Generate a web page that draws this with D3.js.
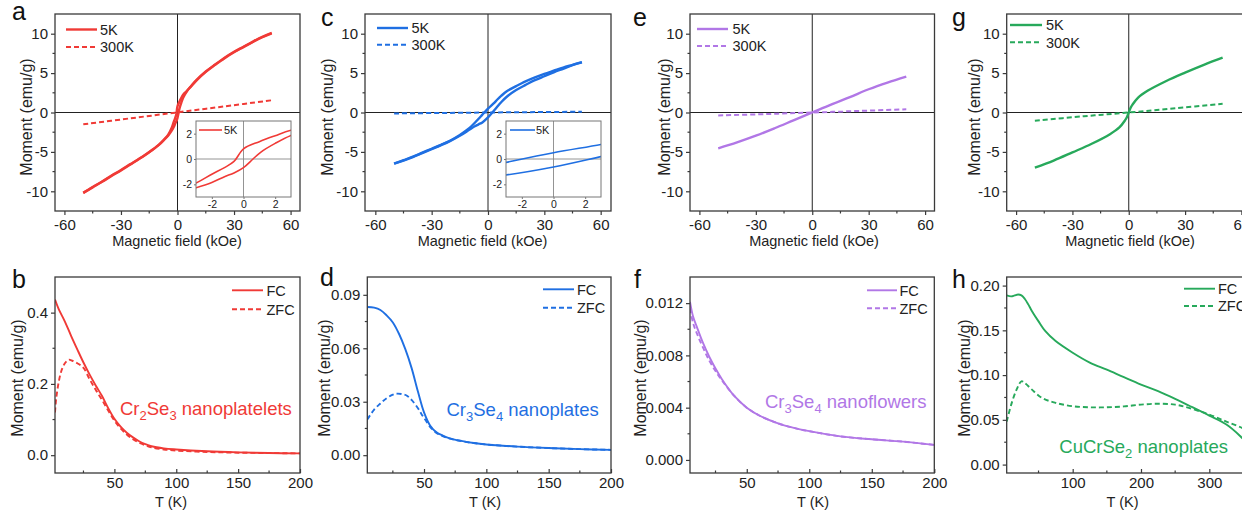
<!DOCTYPE html>
<html><head><meta charset="utf-8">
<script src="https://cdn.jsdelivr.net/npm/d3@7"></script>
<style>
body{margin:0;background:#fff;}
svg{display:block;font-family:"Liberation Sans",Arial,Helvetica,sans-serif;}
</style>
</head><body>
<svg id="chart" width="1242" height="512"></svg>
<script>
// ---------------- DATA ----------------
// Panel a (Cr2Se3): M(H) loops, [field kOe, moment emu/g]
const a5KDown = [[50,10.1],[45,9.6],[40,9.0],[35,8.35],[30,7.7],[25,6.95],[20,6.1],[15,5.2],[10,4.1],[7,3.3],[5,2.75],[3,2.27],[2,1.84],[1,1.37],[0,0.8],[-0.6,-0.19],[-1.2,-0.68],[-2,-1.2],[-3,-1.9],[-5,-2.85],[-7,-3.4],[-10,-4.1],[-15,-5.0],[-20,-5.8],[-25,-6.55],[-30,-7.3],[-35,-8.0],[-40,-8.75],[-45,-9.45],[-50,-10.2]];
const a5KUp = [[-50,-10.2],[-45,-9.5],[-40,-8.8],[-35,-8.05],[-30,-7.35],[-25,-6.6],[-20,-5.85],[-15,-5.05],[-10,-4.15],[-7,-3.45],[-5,-2.95],[-3,-2.27],[-2,-1.85],[-1.2,-1.4],[-0.6,-1.1],[0,-0.68],[0.6,0],[1.1,0.55],[2,1.23],[3,1.86],[5,2.7],[7,3.25],[10,4.05],[15,5.15],[20,6.05],[25,6.9],[30,7.65],[35,8.3],[40,8.95],[45,9.55],[50,10.05]];
const a300K = [[-50,-1.5],[-25,-0.74],[0,0.02],[25,0.78],[50,1.55]];
// Panel c (Cr3Se4 nanoplates)
const c5KDown = [[50,6.4],[45,6.05],[40,5.7],[35,5.3],[30,4.9],[25,4.45],[20,3.95],[15,3.35],[10,2.7],[7,2.1],[5,1.65],[3,1.15],[0,0.49],[-3,-0.27],[-5,-0.8],[-7,-1.3],[-10,-2.0],[-15,-2.85],[-20,-3.55],[-25,-4.1],[-30,-4.6],[-35,-5.1],[-40,-5.6],[-45,-6.05],[-50,-6.5]];
const c5KUp = [[-50,-6.5],[-45,-6.1],[-40,-5.65],[-35,-5.15],[-30,-4.65],[-25,-4.15],[-20,-3.6],[-15,-2.95],[-10,-2.2],[-7,-1.75],[-5,-1.5],[-3,-1.26],[0,-0.63],[3,0.19],[5,0.75],[7,1.3],[10,2.0],[15,2.85],[20,3.5],[25,4.1],[30,4.6],[35,5.1],[40,5.55],[45,6.0],[50,6.35]];
const c300K = [[-50,-0.12],[-25,-0.06],[0,0],[25,0.05],[50,0.1]];
// Panel e (Cr3Se4 nanoflowers)
const e5K = [[-50,-4.55],[-40,-3.8],[-30,-2.95],[-20,-2.0],[-10,-1.0],[0,0],[10,1.0],[20,1.95],[30,2.95],[40,3.8],[50,4.55]];
const e300K = [[-50,-0.38],[-25,-0.2],[0,0],[25,0.2],[50,0.4]];
// Panel g (CuCrSe2)
const g5K = [[-50,-7.0],[-40,-6.1],[-30,-5.06],[-20,-4.0],[-10,-2.75],[-5,-1.9],[-2,-1.0],[-1,-0.6],[0,0],[1,0.6],[2,1.0],[5,1.9],[10,2.75],[20,4.0],[30,5.06],[40,6.05],[50,6.95]];
const g300K = [[-50,-1.05],[-25,-0.5],[0,0],[25,0.55],[50,1.1]];
// Panel b: M(T), [T K, moment emu/g]
const bFC = [[2,0.437],[5,0.41],[10,0.375],[15,0.335],[20,0.297],[25,0.26],[30,0.226],[35,0.195],[40,0.166],[45,0.132],[50,0.102],[55,0.08],[60,0.063],[65,0.05],[70,0.039],[75,0.031],[80,0.025],[90,0.019],[100,0.016],[125,0.011],[150,0.008],[175,0.006],[200,0.005]];
const bZFC = [[2,0.12],[3,0.16],[5,0.205],[7,0.235],[10,0.258],[13,0.268],[16,0.265],[20,0.258],[25,0.245],[30,0.213],[35,0.183],[40,0.155],[45,0.125],[50,0.097],[55,0.075],[60,0.058],[65,0.045],[70,0.035],[75,0.028],[80,0.022],[90,0.016],[100,0.013],[125,0.009],[150,0.007],[175,0.006],[200,0.005]];
// Panel d
const dFC = [[4.5,0.0832],[10,0.0828],[15,0.0815],[20,0.0785],[25,0.0745],[30,0.068],[35,0.0595],[40,0.049],[45,0.036],[50,0.024],[55,0.0165],[60,0.0128],[65,0.011],[70,0.0096],[80,0.008],[90,0.0068],[100,0.006],[125,0.0048],[150,0.004],[175,0.0034],[200,0.003]];
const dZFC = [[4.5,0.02],[10,0.0256],[15,0.029],[20,0.032],[25,0.034],[28,0.0345],[32,0.0343],[36,0.0335],[40,0.031],[45,0.0265],[48,0.023],[50,0.021],[55,0.0158],[60,0.0125],[65,0.0107],[70,0.0094],[80,0.0079],[90,0.0068],[100,0.006],[125,0.0048],[150,0.004],[175,0.0034],[200,0.003]];
// Panel f
const fFC = [[4.6,0.0121],[7,0.011],[10,0.0102],[15,0.00895],[20,0.0079],[25,0.007],[30,0.0062],[40,0.0049],[50,0.004],[60,0.0034],[75,0.0028],[90,0.0024],[100,0.0022],[125,0.0018],[150,0.00158],[175,0.0014],[200,0.00115]];
const fZFC = [[4.6,0.0116],[7,0.0105],[10,0.0097],[15,0.0086],[20,0.0076],[25,0.0068],[30,0.0061],[40,0.0049],[50,0.004],[60,0.0034],[75,0.0028],[90,0.0024],[100,0.0022],[125,0.0018],[150,0.00158],[175,0.0014],[200,0.00115]];
// Panel h
const hFC = [[3.4,0.189],[10,0.188],[15,0.189],[20,0.19],[25,0.189],[30,0.185],[35,0.179],[40,0.172],[50,0.16],[60,0.149],[75,0.138],[100,0.125],[125,0.114],[150,0.106],[175,0.0976],[200,0.0894],[225,0.082],[250,0.0734],[270,0.066],[300,0.0547],[325,0.0447],[345,0.032],[350,0.028]];
const hZFC = [[3.4,0.048],[10,0.067],[18,0.084],[25,0.093],[30,0.091],[40,0.084],[55,0.0745],[75,0.069],[100,0.0652],[125,0.064],[150,0.064],[175,0.065],[200,0.067],[225,0.068],[250,0.067],[270,0.0633],[300,0.0559],[325,0.048],[345,0.042],[350,0.04]];

// Ticks
const fieldTicks = [-60,-30,0,30,60];
const fieldTickLabels = ["-60","-30","0","30","60"];
const fieldMinor = [-45,-15,15,45];
const momentTicks = [-10,-5,0,5,10];
const momentTickLabels = ["-10","-5","0","5","10"];
const momentMinor = [-7.5,-2.5,2.5,7.5];
const insetTicks = [-2,0,2];
const insetTickLabels = ["-2","0","2"];
const tTicks = [50,100,150,200];
const tTickLabels = ["50","100","150","200"];
const tMinor = [25,75,125,175];
const tTicksH = [100,200,300];
const tTickLabelsH = ["100","200","300"];
const tMinorH = [50,150,250,350];
const bYTicks = [0,0.2,0.4], bYLabels = ["0.0","0.2","0.4"], bYMinor = [0.1,0.3];
const dYTicks = [0,0.03,0.06,0.09], dYLabels = ["0.00","0.03","0.06","0.09"], dYMinor = [0.015,0.045,0.075];
const fYTicks = [0,0.004,0.008,0.012], fYLabels = ["0.000","0.004","0.008","0.012"], fYMinor = [0.002,0.006,0.010];
const hYTicks = [0,0.05,0.1,0.15,0.2], hYLabels = ["0.00","0.05","0.10","0.15","0.20"], hYMinor = [0.025,0.075,0.125,0.175];

const loopLegend = ["5K","300K"];
const tempLegend = ["FC","ZFC"];
const panelLetters = ["a","b","c","d","e","f","g","h"];
const fieldTitle = "Magnetic field (kOe)";
const tempTitle = "T (K)";
const momentTitle = "Moment (emu/g)";

const RED = "#f03a36", BLUE = "#1f6fe2", PURPLE = "#b177e6", GREEN = "#27a95b";
const FRAME = "#3a3a3a";

// ---------------- DRAW ----------------
const svg = d3.select("#chart");
const defs = svg.append("defs");
let clipCount = 0;

function drawAxes(g, x, y, p, o) {
  const box = {l: x.range()[0], r: x.range()[1], t: y.range()[1], b: y.range()[0]};
  const fs = o.fontSize;
  const xa = d3.axisBottom(x).tickValues(p.xTicks).tickFormat((d,i)=>p.xLabels[i])
      .tickSizeInner(p.xIn ? -o.tick : o.tick).tickSizeOuter(0).tickPadding(o.pad);
  const gx = g.append("g").attr("transform",`translate(0,${box.b})`).call(xa);
  gx.select(".domain").remove();
  gx.selectAll("line").attr("stroke",o.frame).attr("stroke-width",o.sw);
  gx.selectAll("text").attr("font-size",fs).attr("fill","#222").attr("font-family","inherit");
  if (p.xMinor) gx.selectAll(".minor").data(p.xMinor).enter().append("line")
      .attr("x1",d=>x(d)).attr("x2",d=>x(d)).attr("y1",0).attr("y2",p.xIn ? -o.minor : o.minor)
      .attr("stroke",o.frame).attr("stroke-width",o.sw);
  const ya = d3.axisLeft(y).tickValues(p.yTicks).tickFormat((d,i)=>p.yLabels[i])
      .tickSizeInner(o.tick).tickSizeOuter(0).tickPadding(o.ypad);
  const gy = g.append("g").attr("transform",`translate(${box.l},0)`).call(ya);
  gy.select(".domain").remove();
  gy.selectAll("line").attr("stroke",o.frame).attr("stroke-width",o.sw);
  gy.selectAll("text").attr("font-size",fs).attr("fill","#222").attr("font-family","inherit");
  if (p.yMinor) gy.selectAll(".minor").data(p.yMinor).enter().append("line")
      .attr("y1",d=>y(d)).attr("y2",d=>y(d)).attr("x1",0).attr("x2",-o.minor)
      .attr("stroke",o.frame).attr("stroke-width",o.sw);
}

function drawSeries(g, x, y, series, clipId) {
  const line = d3.line().x(d=>x(d[0])).y(d=>y(d[1])).curve(d3.curveCatmullRom.alpha(0.5));
  series.forEach(s => {
    g.append("path").datum(s.data).attr("d",line)
      .attr("fill","none").attr("stroke",s.color).attr("stroke-width",s.width)
      .attr("stroke-dasharray",s.dash || null).attr("stroke-linejoin","round")
      .attr("clip-path",`url(#${clipId})`);
  });
}

function makeClip(l,t,w,h){
  const id = "clip"+(clipCount++);
  defs.append("clipPath").attr("id",id).append("rect").attr("x",l).attr("y",t).attr("width",w).attr("height",h);
  return id;
}

function panel(p) {
  const g = svg.append("g");
  const x = d3.scaleLinear().domain(p.xDomain).range([p.l, p.r]);
  const y = d3.scaleLinear().domain(p.yDomain).range([p.b, p.t]);
  const clipId = makeClip(p.l, p.t, p.r-p.l, p.b-p.t);
  if (p.cross) {
    g.append("line").attr("x1",x(0)).attr("x2",x(0)).attr("y1",p.t).attr("y2",p.b).attr("stroke","#222").attr("stroke-width",1);
    g.append("line").attr("x1",p.l).attr("x2",p.r).attr("y1",y(0)).attr("y2",y(0)).attr("stroke","#222").attr("stroke-width",1);
  }
  drawSeries(g, x, y, p.series, clipId);
  g.append("rect").attr("x",p.l).attr("y",p.t).attr("width",p.r-p.l).attr("height",p.b-p.t)
    .attr("fill","none").attr("stroke",FRAME).attr("stroke-width",1.3);
  drawAxes(g, x, y, p, {fontSize:15, tick:4, minor:2.5, pad:4, ypad:3, frame:FRAME, sw:1.2});
  g.append("text").attr("x",p.xtX).attr("y",p.xtY).attr("text-anchor","middle").attr("font-size",14.5)
    .attr("fill","#222").text(p.xTitle);
  g.append("text").attr("transform",`translate(${p.ytX},${p.ytY}) rotate(-90)`).attr("text-anchor","middle")
    .attr("font-size",16).attr("fill","#222").text(momentTitle);
  g.append("text").attr("x",p.letterX).attr("y",p.letterY).attr("font-size",25).attr("fill","#111").text(p.letter);
  p.legend.forEach((lg,i) => {
    g.append("line").attr("x1",p.legX1).attr("x2",p.legX2).attr("y1",p.legY[i]).attr("y2",p.legY[i])
      .attr("stroke",p.series[lg.s].color).attr("stroke-width",p.series[lg.s].width)
      .attr("stroke-dasharray",p.series[lg.s].dash || null);
    g.append("text").attr("x",p.legTX).attr("y",p.legY[i]+5.2).attr("font-size",14.5).attr("fill","#222").text(lg.label);
  });
  if (p.note) {
    const t = g.append("text").attr("x",p.note.x).attr("y",p.note.y).attr("font-size",18.5).attr("fill",p.note.color);
    p.note.parts.forEach(part => {
      if (part.sub) t.append("tspan").attr("dy",5).attr("font-size",13).text(part.t);
      else t.append("tspan").attr("dy", part.after ? -5 : 0).text(part.t);
    });
  }
  if (p.inset) {
    const q = p.inset;
    const ix = d3.scaleLinear().domain([-3,3]).range([q.l,q.r]);
    const iy = d3.scaleLinear().domain([-3,3]).range([q.b,q.t]);
    const gi = svg.append("g");
    gi.append("rect").attr("x",q.l).attr("y",q.t).attr("width",q.r-q.l).attr("height",q.b-q.t).attr("fill","#fff");
    gi.append("line").attr("x1",ix(0)).attr("x2",ix(0)).attr("y1",q.t).attr("y2",q.b).attr("stroke","#888").attr("stroke-width",0.9);
    gi.append("line").attr("x1",q.l).attr("x2",q.r).attr("y1",iy(0)).attr("y2",iy(0)).attr("stroke","#888").attr("stroke-width",0.9);
    const cid = makeClip(q.l,q.t,q.r-q.l,q.b-q.t);
    drawSeries(gi, ix, iy, q.series, cid);
    gi.append("rect").attr("x",q.l).attr("y",q.t).attr("width",q.r-q.l).attr("height",q.b-q.t)
      .attr("fill","none").attr("stroke","#777").attr("stroke-width",1);
    drawAxes(gi, ix, iy, {xTicks:insetTicks,xLabels:insetTickLabels,yTicks:insetTicks,yLabels:insetTickLabels},
      {fontSize:10.5, tick:2, minor:1, pad:2, ypad:2, frame:"#777", sw:1});
    gi.append("line").attr("x1",q.legX1).attr("x2",q.legX2).attr("y1",q.legY).attr("y2",q.legY)
      .attr("stroke",q.series[0].color).attr("stroke-width",1.6);
    gi.append("text").attr("x",q.legTX).attr("y",q.legY+4).attr("font-size",11).attr("fill","#222").text("5K");
  }
}

const sol = (data,color)=>({data,color,width:2.4});
const dsh = (data,color)=>({data,color,width:2,dash:"5,3"});
const solT = (data,color)=>({data,color,width:1.9});
const dshT = (data,color)=>({data,color,width:1.9,dash:"5,3"});

const topCommon = {xTicks:fieldTicks,xLabels:fieldTickLabels,xMinor:fieldMinor,yTicks:momentTicks,yLabels:momentTickLabels,yMinor:momentMinor,
  yDomain:[-12.5,12.5], t:14, b:211, cross:true, xTitle:fieldTitle, xtY:246, ytY:117};

panel(Object.assign({}, topCommon, {l:55, r:300, xDomain:[-65,65],
  series:[sol(a5KDown,RED), sol(a5KUp,RED), dsh(a300K,RED)],
  legend:[{s:0,label:loopLegend[0]},{s:2,label:loopLegend[1]}], legX1:66, legX2:97, legY:[29.5,47], legTX:100,
  xtX:177, ytX:32, letter:panelLetters[0], letterX:12, letterY:20,
  inset:{l:196, r:291, t:121, b:197, series:[{data:a5KDown,color:RED,width:1.6},{data:a5KUp,color:RED,width:1.6}],
    legX1:199, legX2:222, legY:130, legTX:224}}));
panel(Object.assign({}, topCommon, {l:365, r:611, xDomain:[-65.5,65.5],
  series:[sol(c5KDown,BLUE), sol(c5KUp,BLUE), dsh(c300K,BLUE)],
  legend:[{s:0,label:loopLegend[0]},{s:2,label:loopLegend[1]}], legX1:377, legX2:408, legY:[28,44.7], legTX:411.5,
  xtX:482.5, ytX:333, letter:panelLetters[2], letterX:321, letterY:26,
  inset:{l:506, r:601, t:121, b:197, series:[{data:c5KDown,color:BLUE,width:1.6},{data:c5KUp,color:BLUE,width:1.6}],
    legX1:510, legX2:535, legY:130, legTX:536}}));
panel(Object.assign({}, topCommon, {l:690, r:934.5, xDomain:[-65,65],
  series:[sol(e5K,PURPLE), dsh(e300K,PURPLE)],
  legend:[{s:0,label:loopLegend[0]},{s:1,label:loopLegend[1]}], legX1:697, legX2:728, legY:[29,46], legTX:732.5,
  xtX:814, ytX:670, letter:panelLetters[4], letterX:633, letterY:26}));
panel(Object.assign({}, topCommon, {l:1006.7, r:1250.8, xDomain:[-65,65],
  series:[sol(g5K,GREEN), dsh(g300K,GREEN)],
  legend:[{s:0,label:loopLegend[0]},{s:1,label:loopLegend[1]}], legX1:1010, legX2:1042, legY:[25,42.3], legTX:1046,
  xtX:1130, ytX:980, letter:panelLetters[6], letterX:952, letterY:26}));

const botCommon = {xIn:true, t:277, b:473, xTitle:tempTitle, xtY:507, ytY:378};
panel(Object.assign({}, botCommon, {l:55, r:300, xDomain:[2,200], yDomain:[-0.05,0.5],
  xTicks:tTicks, xLabels:tTickLabels, xMinor:tMinor, yTicks:bYTicks, yLabels:bYLabels, yMinor:bYMinor,
  series:[solT(bFC,RED), dshT(bZFC,RED)],
  legend:[{s:0,label:tempLegend[0]},{s:1,label:tempLegend[1]}], legX1:232, legX2:263, legY:[290.3,309.3], legTX:266.5,
  xtX:171, ytX:23, letter:panelLetters[1], letterX:12, letterY:287.5,
  note:{x:120, y:415, color:RED, parts:[{t:"Cr"},{t:"2",sub:true},{t:"Se",after:true},{t:"3",sub:true},{t:" nanoplatelets",after:true}]}}));
panel(Object.assign({}, botCommon, {l:367.3, r:611, xDomain:[4.5,200], yDomain:[-0.01,0.1],
  xTicks:tTicks, xLabels:tTickLabels, xMinor:tMinor, yTicks:dYTicks, yLabels:dYLabels, yMinor:dYMinor,
  series:[solT(dFC,BLUE), dshT(dZFC,BLUE)],
  legend:[{s:0,label:tempLegend[0]},{s:1,label:tempLegend[1]}], legX1:543, legX2:574, legY:[289.3,307.7], legTX:577,
  xtX:485, ytX:330, letter:panelLetters[3], letterX:320, letterY:286,
  note:{x:446.5, y:416, color:BLUE, parts:[{t:"Cr"},{t:"3",sub:true},{t:"Se",after:true},{t:"4",sub:true},{t:" nanoplates",after:true}]}}));
panel(Object.assign({}, botCommon, {l:690, r:934.3, xDomain:[4.6,200], yDomain:[-0.001,0.014],
  xTicks:tTicks, xLabels:tTickLabels, xMinor:tMinor, yTicks:fYTicks, yLabels:fYLabels, yMinor:fYMinor,
  series:[solT(fFC,PURPLE), dshT(fZFC,PURPLE)],
  legend:[{s:0,label:tempLegend[0]},{s:1,label:tempLegend[1]}], legX1:867, legX2:897, legY:[290.3,308.3], legTX:899.5,
  xtX:813, ytX:646, letter:panelLetters[5], letterX:634, letterY:287.5,
  note:{x:765, y:407.7, color:PURPLE, parts:[{t:"Cr"},{t:"3",sub:true},{t:"Se",after:true},{t:"4",sub:true},{t:" nanoflowers",after:true}]}}));
panel(Object.assign({}, botCommon, {l:1006.7, r:1250.3, xDomain:[3.4,360], yDomain:[-0.0094,0.2096],
  xTicks:tTicksH, xLabels:tTickLabelsH, xMinor:tMinorH, yTicks:hYTicks, yLabels:hYLabels, yMinor:hYMinor,
  series:[solT(hFC,GREEN), dshT(hZFC,GREEN)],
  legend:[{s:0,label:tempLegend[0]},{s:1,label:tempLegend[1]}], legX1:1184, legX2:1215, legY:[288.7,306], legTX:1218,
  xtX:1122.5, ytX:970, letter:panelLetters[7], letterX:952, letterY:287.5,
  note:{x:1059.3, y:452.7, color:GREEN, parts:[{t:"CuCrSe"},{t:"2",sub:true},{t:" nanoplates",after:true}]}}));
</script>
</body></html>
